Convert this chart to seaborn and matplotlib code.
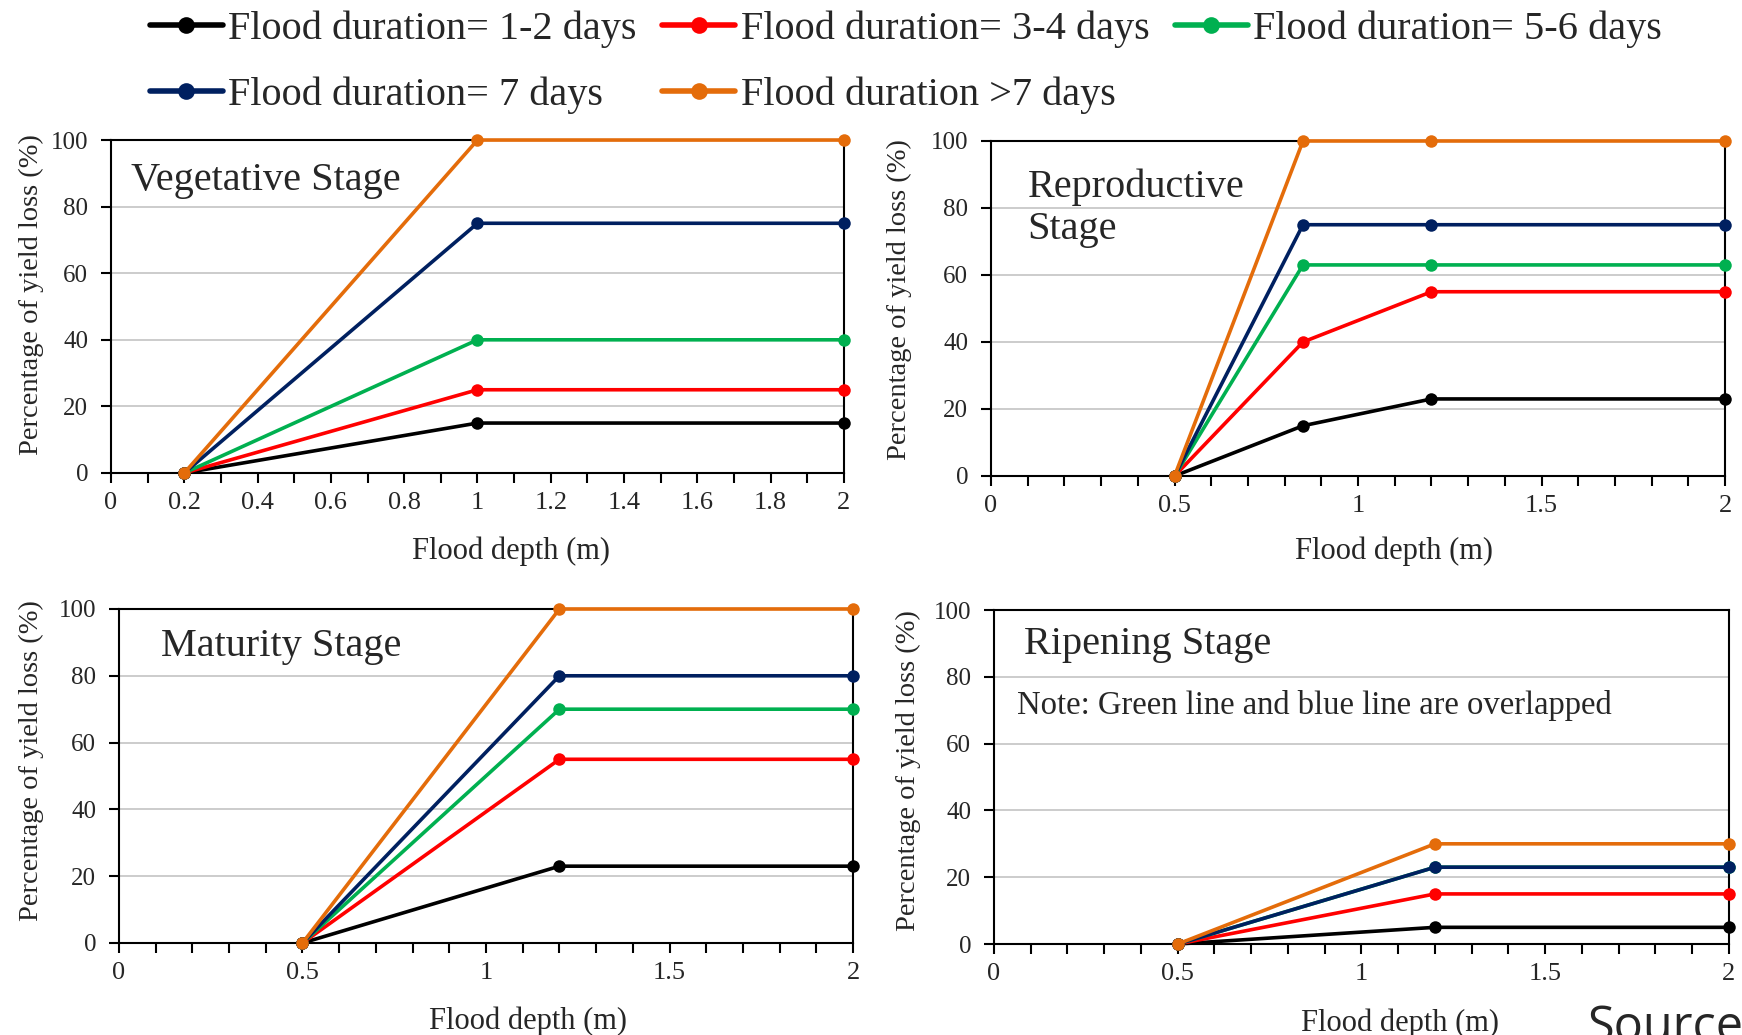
import numpy as np
import pandas as pd
import matplotlib
matplotlib.use('Agg')
import matplotlib.pyplot as plt
from matplotlib.ticker import MultipleLocator, FuncFormatter
import seaborn as sns

# Flood duration categories and their colours
durations = ['Flood duration= 1-2 days', 'Flood duration= 3-4 days',
             'Flood duration= 5-6 days', 'Flood duration= 7 days',
             'Flood duration >7 days']
colors = ['#000000', '#FF0000', '#00B050', '#002060', '#E46C0A']

# Vegetative stage
veg_depth = [0.2, 1.0, 2.0]
veg_12 = [0, 15, 15]
veg_34 = [0, 25, 25]
veg_56 = [0, 40, 40]
veg_7 = [0, 75, 75]
veg_gt7 = [0, 100, 100]

# Reproductive stage
rep_depth = [0.5, 0.85, 1.2, 2.0]
rep_12 = [0, 15, 23, 23]
rep_34 = [0, 40, 55, 55]
rep_56 = [0, 63, 63, 63]
rep_7 = [0, 75, 75, 75]
rep_gt7 = [0, 100, 100, 100]

# Maturity stage
mat_depth = [0.5, 1.2, 2.0]
mat_12 = [0, 23, 23]
mat_34 = [0, 55, 55]
mat_56 = [0, 70, 70]
mat_7 = [0, 80, 80]
mat_gt7 = [0, 100, 100]

# Ripening stage (green and blue overlap)
rip_depth = [0.5, 1.2, 2.0]
rip_12 = [0, 5, 5]
rip_34 = [0, 15, 15]
rip_56 = [0, 23, 23]
rip_7 = [0, 23, 23]
rip_gt7 = [0, 30, 30]


def to_long(depth, series):
    rows = []
    for name, vals in zip(durations, series):
        for d, v in zip(depth, vals):
            rows.append({'depth': d, 'loss': v, 'duration': name})
    return pd.DataFrame(rows)


sns.set_theme(style='white')
plt.rcParams['font.family'] = ['Liberation Serif', 'DejaVu Serif']

fig = plt.figure(figsize=(17.42, 10.35), dpi=100)

# title, x, series, axes rect, major x step, title pos, xlabel pos, ylabel pos
panels = [
    ('Vegetative Stage', veg_depth, [veg_12, veg_34, veg_56, veg_7, veg_gt7],
     [0.0637, 0.543, 0.4208, 0.3217], 0.2, (0.027, 0.877),
     (0.546, -0.235), (-80, 0.537)),
    ('Reproductive\nStage', rep_depth, [rep_12, rep_34, rep_56, rep_7, rep_gt7],
     [0.5689, 0.5401, 0.4214, 0.3237], 0.5, (0.050, 0.799),
     (0.549, -0.225), (-92, 0.527)),
    ('Maturity Stage', mat_depth, [mat_12, mat_34, mat_56, mat_7, mat_gt7],
     [0.0683, 0.0889, 0.4214, 0.3227], 0.5, (0.057, 0.888),
     (0.557, -0.234), (-88, 0.545)),
    ('Ripening Stage', rip_depth, [rip_12, rip_34, rip_56, rip_7, rip_gt7],
     [0.5706, 0.0879, 0.4219, 0.3227], 0.5, (0.041, 0.896),
     (0.552, -0.236), (-86, 0.518)),
]

axes = []
for title, depth, series, rect, major, tpos, xl, yl in panels:
    ax = fig.add_axes(rect)
    df = to_long(depth, series)
    sns.lineplot(data=df, x='depth', y='loss', hue='duration',
                 hue_order=durations, palette=colors, estimator=None,
                 sort=False, marker='o', markersize=9, markeredgewidth=0,
                 linewidth=2.6, legend=False, ax=ax)
    for ln in ax.get_lines():
        ln.set_clip_on(False)
        ln.set_zorder(3)
    ax.set_xlim(0, 2)
    ax.set_ylim(0, 100)
    ax.xaxis.set_major_locator(MultipleLocator(major))
    ax.xaxis.set_minor_locator(MultipleLocator(0.1))
    ax.yaxis.set_major_locator(MultipleLocator(20))
    ax.xaxis.set_major_formatter(FuncFormatter(lambda v, p: f'{v:g}'))
    ax.yaxis.set_major_formatter(FuncFormatter(lambda v, p: f'{v:g}'))
    ax.grid(axis='y', color='#C8C8C8', linewidth=1.3)
    ax.set_axisbelow(True)
    for s in ax.spines.values():
        s.set_color('black')
        s.set_linewidth(1.5)
    ax.tick_params(axis='x', which='both', direction='out', length=7,
                   width=1.5, color='black', bottom=True, labelsize=19, pad=7)
    ax.tick_params(axis='y', which='major', direction='out', length=7,
                   width=1.5, color='black', left=True, labelsize=18, pad=9.5)
    ax.set_xlabel('Flood depth (m)', fontsize=22)
    ax.set_ylabel('Percentage of yield loss (%)', fontsize=20.5)
    ax.xaxis.set_label_coords(xl[0], xl[1])
    ax.xaxis.label.set_va('center')
    ax.yaxis.set_label_coords(yl[0] / (rect[2] * 1742), yl[1])
    ax.yaxis.label.set_va('center')
    ax.text(tpos[0], tpos[1], title, transform=ax.transAxes, fontsize=29,
            va='center', ha='left', linespacing=1.18)
    axes.append(ax)

axes[3].text(0.031, 0.713, 'Note: Green line and blue line are overlapped',
             transform=axes[3].transAxes, fontsize=23.5, va='center', ha='left')

# Legend on top, two rows (column-major order)
handles = axes[0].get_lines()[:5]
order = [0, 3, 1, 4, 2]
leg = fig.legend([handles[i] for i in order], [durations[i] for i in order],
                 loc='upper left', bbox_to_anchor=(150 / 1742, 1 - 11 / 1035),
                 ncol=3, frameon=False, fontsize=29, handlelength=1.8,
                 handletextpad=0.14, columnspacing=0.64, labelspacing=0.7,
                 borderpad=0, borderaxespad=0)
for ln in leg.get_lines():
    ln.set_linewidth(4)
    ln.set_markersize(12)

fig.text(1588 / 1742, -0.0058, 'Source:', fontsize=35, family='Open Sans',
         va='baseline', ha='left')

fig.savefig('out.png', dpi=100)
